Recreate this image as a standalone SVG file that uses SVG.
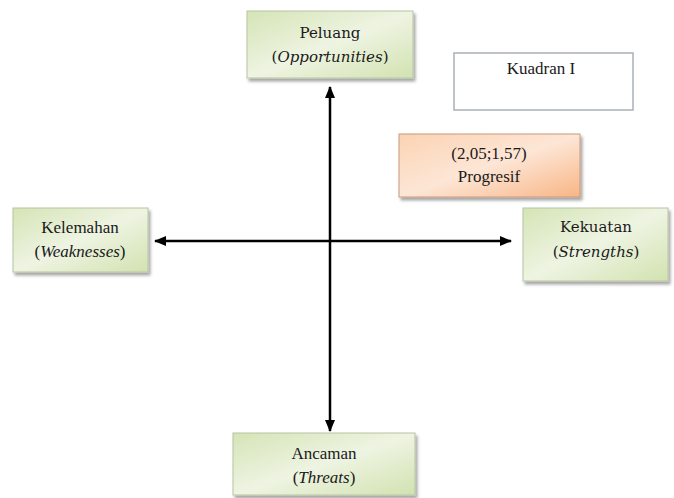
<svg xmlns="http://www.w3.org/2000/svg" width="674" height="498" viewBox="0 0 674 498">
<defs>
<linearGradient id="green" x1="0" y1="0" x2="1" y2="1">
<stop offset="0" stop-color="#d5e4b6"/>
<stop offset="0.5" stop-color="#eef4e2"/>
<stop offset="1" stop-color="#d2e2b0"/>
</linearGradient>
<linearGradient id="orange" x1="0" y1="0" x2="1" y2="1">
<stop offset="0" stop-color="#fbd3b3"/>
<stop offset="0.5" stop-color="#fde6d6"/>
<stop offset="1" stop-color="#f8b585"/>
</linearGradient>
<filter id="sh" x="-10%" y="-10%" width="125%" height="130%">
<feDropShadow dx="2" dy="3" stdDeviation="1.5" flood-color="#000" flood-opacity="0.35"/>
</filter>
<marker id="ah" viewBox="0 0 12 10" refX="11" refY="5" markerWidth="12" markerHeight="10" markerUnits="userSpaceOnUse" orient="auto-start-reverse">
<path d="M0,0 L12,5 L0,10 z" fill="#000"/>
</marker>
<style>
.g{fill:url(#green);stroke:#b8c4a4;stroke-width:1;filter:url(#sh)}
.o{fill:url(#orange);stroke:#c89a7c;stroke-width:1;filter:url(#sh)}
.w{fill:#fff;stroke:#a8b0b8;stroke-width:1.5}
text{font-family:'Liberation Serif',serif;font-size:17px;fill:#1a1a1a;text-anchor:middle}
.d{font-family:'DejaVu Serif',serif;font-size:15px}
.i{font-style:italic}
.c{stroke:#000;stroke-width:2.5;fill:none}
</style>
</defs>
<g id="connectors">
<line class="c" x1="330" y1="87" x2="330" y2="431" marker-start="url(#ah)" marker-end="url(#ah)"/>
<line class="c" x1="155" y1="241" x2="511" y2="241" marker-start="url(#ah)" marker-end="url(#ah)"/>
</g>
<g id="peluang">
<rect class="g" x="247" y="11" width="166" height="67"/>
<text class="d" x="330" y="38">Peluang</text>
<text class="d" x="330" y="62">(<tspan class="i">Opportunities</tspan>)</text>
</g>
<g id="kuadran">
<rect class="w" x="454" y="53" width="179" height="57"/>
<text x="541" y="74">Kuadran I</text>
</g>
<g id="progresif">
<rect class="o" x="399" y="134" width="181" height="63"/>
<text x="489" y="159">(2,05;1,57)</text>
<text x="489" y="182">Progresif</text>
</g>
<g id="kelemahan">
<rect class="g" x="13" y="208" width="135" height="64"/>
<text x="80" y="233">Kelemahan</text>
<text x="80" y="257">(<tspan class="i">Weaknesses</tspan>)</text>
</g>
<g id="kekuatan">
<rect class="g" x="523" y="208" width="145" height="73"/>
<text class="d" x="596" y="232">Kekuatan</text>
<text class="d" x="596" y="257">(<tspan class="i">Strengths</tspan>)</text>
</g>
<g id="ancaman">
<rect class="g" x="233" y="433" width="182" height="62"/>
<text x="324" y="459">Ancaman</text>
<text x="324" y="483">(<tspan class="i">Threats</tspan>)</text>
</g>
</svg>
